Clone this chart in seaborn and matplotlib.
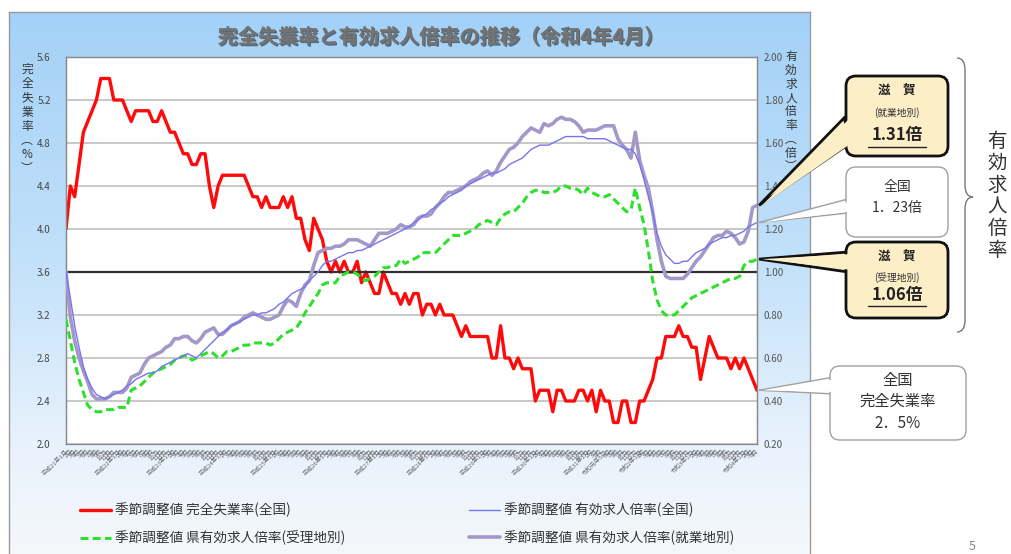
import numpy as np
import pandas as pd
import matplotlib
matplotlib.use("Agg")
import matplotlib.pyplot as plt
import seaborn as sns
from matplotlib.patches import FancyBboxPatch, Polygon, PathPatch
from matplotlib.path import Path
import matplotlib.patheffects as pe

sns.set_style("white")
plt.rcParams['font.family'] = ['Noto Sans CJK JP', 'DejaVu Sans']

W, H = 1011, 554

# ---------------- data (monthly, Jan 2009 - Apr 2022) ----------------
unemployment = [
    4.0, 4.4, 4.3, 4.6, 4.9, 5.0, 5.1, 5.2, 5.4, 5.4, 5.4, 5.2,
    5.2, 5.2, 5.1, 5.0, 5.1, 5.1, 5.1, 5.1, 5.0, 5.0, 5.1, 5.0,
    4.9, 4.9, 4.8, 4.7, 4.7, 4.6, 4.6, 4.7, 4.7, 4.4, 4.2, 4.4,
    4.5, 4.5, 4.5, 4.5, 4.5, 4.5, 4.4, 4.3, 4.3, 4.2, 4.3, 4.2,
    4.2, 4.2, 4.3, 4.2, 4.3, 4.1, 4.1, 3.9, 3.8, 4.1, 4.0, 3.9,
    3.7, 3.6, 3.7, 3.6, 3.7, 3.6, 3.6, 3.7, 3.5, 3.6, 3.5, 3.4,
    3.4, 3.6, 3.5, 3.4, 3.4, 3.3, 3.4, 3.3, 3.4, 3.4, 3.2, 3.3,
    3.3, 3.2, 3.3, 3.2, 3.2, 3.2, 3.1, 3.0, 3.1, 3.0, 3.0, 3.0,
    3.0, 3.0, 2.8, 2.8, 3.1, 2.8, 2.8, 2.7, 2.8, 2.7, 2.7, 2.7,
    2.4, 2.5, 2.5, 2.5, 2.3, 2.5, 2.5, 2.4, 2.4, 2.4, 2.5, 2.5,
    2.4, 2.5, 2.3, 2.5, 2.4, 2.4, 2.2, 2.2, 2.4, 2.4, 2.2, 2.2,
    2.4, 2.4, 2.5, 2.6, 2.8, 2.8, 3.0, 3.0, 3.0, 3.1, 3.0, 3.0,
    2.9, 2.9, 2.6, 2.8, 3.0, 2.9, 2.8, 2.8, 2.8, 2.7, 2.8, 2.7,
    2.8, 2.7, 2.6, 2.5,
]

ratio_national = [
    1.00, 0.88, 0.75, 0.65, 0.56, 0.50, 0.46, 0.43, 0.42, 0.41, 0.42, 0.43,
    0.44, 0.45, 0.47, 0.48, 0.50, 0.51, 0.52, 0.53, 0.53, 0.54, 0.56, 0.57,
    0.58, 0.59, 0.60, 0.61, 0.62, 0.61, 0.60, 0.62, 0.64, 0.66, 0.68, 0.70,
    0.72, 0.73, 0.75, 0.76, 0.77, 0.78, 0.79, 0.80, 0.80, 0.81, 0.81, 0.82,
    0.83, 0.85, 0.86, 0.88, 0.90, 0.91, 0.92, 0.93, 0.96, 0.98, 1.00, 1.03,
    1.05, 1.05, 1.06, 1.07, 1.08, 1.09, 1.09, 1.10, 1.10, 1.11, 1.12, 1.13,
    1.14, 1.15, 1.16, 1.17, 1.18, 1.19, 1.20, 1.21, 1.23, 1.24, 1.26, 1.27,
    1.29, 1.30, 1.32, 1.33, 1.35, 1.36, 1.37, 1.38, 1.40, 1.41, 1.42, 1.43,
    1.44, 1.45, 1.46, 1.46, 1.47, 1.48, 1.50, 1.51, 1.52, 1.53, 1.55, 1.57,
    1.58, 1.59, 1.59, 1.59, 1.60, 1.61, 1.62, 1.63, 1.63, 1.63, 1.63, 1.63,
    1.62, 1.62, 1.62, 1.62, 1.62, 1.61, 1.60, 1.59, 1.58, 1.57, 1.57, 1.55,
    1.50, 1.43, 1.35, 1.28, 1.18, 1.12, 1.08, 1.06, 1.04, 1.04, 1.05, 1.05,
    1.07, 1.09, 1.10, 1.11, 1.13, 1.14, 1.15, 1.16, 1.16, 1.17, 1.17, 1.18,
    1.19, 1.21, 1.22, 1.23,
]

ratio_shiga_work = [
    1.00, 0.79, 0.68, 0.60, 0.54, 0.49, 0.43, 0.41, 0.41, 0.41, 0.42, 0.44,
    0.44, 0.44, 0.46, 0.51, 0.52, 0.53, 0.57, 0.60, 0.61, 0.62, 0.63, 0.65,
    0.66, 0.69, 0.69, 0.70, 0.70, 0.68, 0.67, 0.69, 0.72, 0.73, 0.74, 0.71,
    0.71, 0.73, 0.75, 0.76, 0.77, 0.79, 0.80, 0.81, 0.80, 0.79, 0.78, 0.78,
    0.79, 0.80, 0.84, 0.87, 0.86, 0.84, 0.90, 0.94, 0.96, 1.03, 1.09, 1.10,
    1.11, 1.11, 1.12, 1.12, 1.13, 1.15, 1.15, 1.15, 1.14, 1.13, 1.12, 1.15,
    1.18, 1.18, 1.18, 1.19, 1.20, 1.22, 1.21, 1.21, 1.22, 1.25, 1.26, 1.26,
    1.27, 1.30, 1.32, 1.35, 1.37, 1.37, 1.38, 1.39, 1.40, 1.42, 1.43, 1.44,
    1.46, 1.47, 1.45, 1.47, 1.51, 1.54, 1.57, 1.58, 1.60, 1.63, 1.65, 1.67,
    1.66, 1.65, 1.69, 1.68, 1.69, 1.71, 1.72, 1.71, 1.71, 1.70, 1.68, 1.65,
    1.66, 1.66, 1.66, 1.67, 1.68, 1.68, 1.68, 1.62, 1.59, 1.57, 1.53, 1.65,
    1.52, 1.45, 1.39, 1.28, 1.15, 1.05, 0.98, 0.97, 0.97, 0.97, 0.97, 0.99,
    1.02, 1.05, 1.07, 1.10, 1.13, 1.16, 1.17, 1.17, 1.19, 1.18, 1.16, 1.13,
    1.14, 1.19, 1.30, 1.31,
]

ratio_shiga_recv = [
    0.78, 0.68, 0.58, 0.50, 0.44, 0.38, 0.36, 0.35, 0.35, 0.36, 0.36, 0.36,
    0.37, 0.37, 0.37, 0.45, 0.46, 0.47, 0.49, 0.51, 0.53, 0.54, 0.55, 0.56,
    0.57, 0.59, 0.60, 0.61, 0.61, 0.59, 0.60, 0.61, 0.62, 0.63, 0.62, 0.60,
    0.61, 0.63, 0.63, 0.64, 0.65, 0.66, 0.66, 0.67, 0.67, 0.67, 0.67, 0.66,
    0.67, 0.69, 0.71, 0.72, 0.73, 0.74, 0.77, 0.81, 0.84, 0.87, 0.90, 0.94,
    0.95, 0.95, 0.95, 0.98, 0.99, 1.00, 1.00, 0.99, 0.97, 0.96, 0.97, 0.98,
    1.00, 1.02, 1.02, 1.03, 1.03, 1.06, 1.04, 1.05, 1.06, 1.07, 1.09, 1.09,
    1.09, 1.09, 1.11, 1.13, 1.15, 1.17, 1.17, 1.17, 1.18, 1.19, 1.20, 1.22,
    1.23, 1.24, 1.23, 1.22, 1.25, 1.27, 1.28, 1.28, 1.30, 1.32, 1.35, 1.37,
    1.38, 1.38, 1.37, 1.37, 1.37, 1.38, 1.40, 1.40, 1.39, 1.39, 1.38, 1.36,
    1.39, 1.37, 1.36, 1.35, 1.35, 1.36, 1.34, 1.32, 1.30, 1.28, 1.29, 1.39,
    1.30, 1.22, 1.10, 0.96, 0.87, 0.82, 0.80, 0.80, 0.80, 0.82, 0.84, 0.86,
    0.88, 0.89, 0.90, 0.91, 0.92, 0.93, 0.94, 0.95, 0.96, 0.97, 0.97, 0.98,
    1.03, 1.05, 1.05, 1.06,
]

year_labels = ["平成21年", "平成22年", "平成23年", "平成24年", "平成25年", "平成26年",
               "平成27年", "平成28年", "平成29年", "平成30年", "平成31年",
               "令和2年", "令和3年", "令和4年"]
month_labels = ["1月", "2月", "3月", "4月", "5月", "6月",
                "7月", "8月", "9月", "10月", "11月", "12月"]
left_ticks = [2.0, 2.4, 2.8, 3.2, 3.6, 4.0, 4.4, 4.8, 5.2, 5.6]
right_ticks = [0.2, 0.4, 0.6, 0.8, 1.0, 1.2, 1.4, 1.6, 1.8, 2.0]

legend_labels = ["季節調整値 完全失業率(全国)", "季節調整値 県有効求人倍率(受理地別)",
                 "季節調整値 有効求人倍率(全国)", "季節調整値 県有効求人倍率(就業地別)"]
title = "完全失業率と有効求人倍率の推移（令和4年4月）"

n = len(unemployment)
idx = list(range(n))
xlabels = []
for i in idx:
    y, m = divmod(i, 12)
    if m == 0:
        xlabels.append(year_labels[y] + month_labels[0])
    elif y == 10 and m == 4:
        xlabels.append("令和元年" + month_labels[4])
    else:
        xlabels.append(month_labels[m])

df = pd.DataFrame({"idx": idx, "unemp": unemployment, "nat": ratio_national,
                   "work": ratio_shiga_work, "recv": ratio_shiga_recv})

fig = plt.figure(figsize=(W / 100, H / 100), dpi=100)
fig.patch.set_facecolor('white')

# ---------------- background panel with gradient ----------------
bg = fig.add_axes([9 / W, 0, 801 / W, 542 / H], zorder=-5)
cols = np.array([[0.64, 0.82, 0.97], [0.76, 0.88, 0.98], [0.91, 0.95, 0.99], [0.96, 0.97, 0.98]])
stops = [0, 0.45, 0.8, 1.0]
t = np.linspace(0, 1, 300)
grad = np.stack([np.interp(t, stops, cols[:, k]) for k in range(3)], axis=-1)[:, None, :]
bg.imshow(grad, aspect='auto', extent=[0, 1, 0, 1])
bg.set_xticks([]); bg.set_yticks([])
for s in bg.spines.values():
    s.set_color('#9a9a9a'); s.set_linewidth(1)
bg.spines['bottom'].set_visible(False)

# ---------------- main axes ----------------
ax = fig.add_axes([66 / W, 1 - 444 / H, 691 / W, 387 / H])
ax.set_facecolor('white')
sns.lineplot(data=df, x='idx', y='unemp', ax=ax, color='#ff0a0a', linewidth=2.4, zorder=3)
red_line = ax.lines[-1]
ax.set_ylim(2.0, 5.6)
ax.set_xlim(0, n - 1)
ax.set_yticks(left_ticks)
ax.set_yticklabels([f"{v:.1f}" for v in left_ticks])
ax.grid(axis='y', color='#c4c4c4', linewidth=1.3)
ax.grid(axis='x', visible=False)
ax.set_axisbelow(True)
ax.set_xlabel(""); ax.set_ylabel("")
ax.tick_params(axis='y', length=0, pad=11, labelsize=7, labelcolor='#444')
ax.set_xticks(idx)
ax.set_xticklabels(xlabels, rotation=45, ha='right', rotation_mode='anchor',
                   fontsize=4.3, color='#666')
ax.tick_params(axis='x', length=2, width=0.6, color='#888', pad=1.5)
for s in ax.spines.values():
    s.set_color('#8a8a8a'); s.set_linewidth(0.9)
ax.spines['bottom'].set_linestyle((0, (1, 1)))

ax2 = ax.twinx()
ax2.axhline(1.0, color='#303030', linewidth=1.6, zorder=2)
sns.lineplot(data=df, x='idx', y='recv', ax=ax2, color='#2ee02e', linewidth=2.2, zorder=3)
green_line = ax2.lines[-1]
green_line.set_dashes((2.6, 1.4))
sns.lineplot(data=df, x='idx', y='work', ax=ax2, color='#a497c9', linewidth=2.6, zorder=4)
purple_line = ax2.lines[-1]
sns.lineplot(data=df, x='idx', y='nat', ax=ax2, color='#7575ee', linewidth=1.0, zorder=5)
blue_line = ax2.lines[-1]
ax2.set_ylim(0.2, 2.0)
ax2.set_yticks(right_ticks)
ax2.set_yticklabels([f"{v:.2f}" for v in right_ticks])
ax2.set_ylabel("")
ax2.tick_params(axis='y', length=0, pad=5, labelsize=7, labelcolor='#555')
for s in ax2.spines.values():
    s.set_color('#8a8a8a'); s.set_linewidth(0.9)
ax2.spines['bottom'].set_visible(False)

# axis labels (vertical stacked)
fig.text(27 / W, 1 - 63 / H, "\n".join("完全失業率︵%︶"), ha='center', va='top',
         fontsize=8.5, color='#333', linespacing=1.12)
fig.text(791 / W, 1 - 50 / H, "\n".join("有効求人倍率︵倍︶"), ha='center', va='top',
         fontsize=8.5, color='#333', linespacing=1.08)

# title
fig.text(441 / W, 1 - 37 / H, title, ha='center', va='center', fontsize=14.5,
         fontweight='bold', color='#737373',
         path_effects=[pe.withSimplePatchShadow(offset=(1, -1), shadow_rgbFace='black', alpha=0.5),
                       pe.Normal()])

# legend
fig.legend(handles=[red_line, green_line, blue_line, purple_line], labels=legend_labels,
           ncol=2, loc='upper left', bbox_to_anchor=(80 / W, 1 - 503 / H), frameon=False,
           fontsize=9.8, handlelength=2.3, handletextpad=0.25, columnspacing=9.1,
           labelspacing=0.95, borderpad=0, borderaxespad=0, labelcolor='#333')

# ---------------- callouts overlay ----------------
ov = fig.add_axes([0, 0, 1, 1], zorder=10)
ov.set_xlim(0, W); ov.set_ylim(H, 0); ov.axis('off')


def tip(series):
    d = ax2.transData.transform((n - 1, series[-1]))
    return (d[0] + 2, H - d[1])


def tip_left(series):
    d = ax.transData.transform((n - 1, series[-1]))
    return (d[0] + 2, H - d[1])


def callout(box, tp, base, fc, ec, lw):
    x, y, w, h = box
    ov.add_patch(Polygon([tp, base[0], base[1]], closed=True, fc=fc, ec=ec, lw=lw, zorder=1))
    ov.add_patch(FancyBboxPatch((x, y), w, h, boxstyle='round,pad=0,rounding_size=10',
                                fc=fc, ec=ec, lw=lw, zorder=2))
    b0 = (base[0][0] + 4, base[0][1] + 2)
    b1 = (base[1][0] + 4, base[1][1] - 2)
    ov.add_patch(Polygon([(tp[0] + 3, tp[1]), b0, b1], closed=True, fc=fc, ec='none', zorder=3))


yellow = '#fcefc8'
callout((846, 76, 102, 80), tip(ratio_shiga_work), [(844, 118), (852, 142)], yellow, '#111', 2.0)
callout((846, 167, 102, 70), tip(ratio_national), [(848, 199), (848, 213)], 'white', '#a0a0a0', 1.0)
callout((846, 242, 102, 76), tip(ratio_shiga_recv), [(848, 252), (848, 272)], yellow, '#111', 2.0)
callout((830, 366, 136, 74), tip_left(unemployment), [(834, 377), (834, 394)], 'white', '#a0a0a0', 1.0)

tx = 897
ov.text(tx, 90, "滋　賀", ha='center', va='center', fontsize=9, fontweight='bold', color='#222', zorder=5)
ov.text(tx, 113, "(就業地別)", ha='center', va='center', fontsize=7, color='#333', zorder=5)
ov.text(tx, 135, "1.31倍", ha='center', va='center', fontsize=12, fontweight='bold', color='#222', zorder=5)
ov.plot([868, 926], [147, 147], color='#222', lw=1.0, zorder=5)

ov.text(tx, 187, "全国", ha='center', va='center', fontsize=10, color='#333', zorder=5)
ov.text(tx, 208, "1．23倍", ha='center', va='center', fontsize=10, color='#333', zorder=5)

ov.text(tx, 256, "滋　賀", ha='center', va='center', fontsize=9, fontweight='bold', color='#222', zorder=5)
ov.text(tx, 278, "(受理地別)", ha='center', va='center', fontsize=7, color='#333', zorder=5)
ov.text(tx, 295, "1.06倍", ha='center', va='center', fontsize=12, fontweight='bold', color='#222', zorder=5)
ov.plot([868, 926], [306, 306], color='#222', lw=1.0, zorder=5)

ov.text(898, 380, "全国", ha='center', va='center', fontsize=11, color='#333', zorder=5)
ov.text(898, 401, "完全失業率", ha='center', va='center', fontsize=11, color='#333', zorder=5)
ov.text(898, 423, "2．5%", ha='center', va='center', fontsize=11, color='#333', zorder=5)

# brace
verts = [(957, 58), (965, 58), (965, 70), (965, 185), (965, 197), (973, 197),
         (965, 197), (965, 209), (965, 320), (965, 332), (957, 332)]
codes = [Path.MOVETO, Path.CURVE3, Path.CURVE3, Path.LINETO, Path.CURVE3, Path.CURVE3,
         Path.CURVE3, Path.CURVE3, Path.LINETO, Path.CURVE3, Path.CURVE3]
ov.add_patch(PathPatch(Path(verts, codes), fc='none', ec='#777', lw=1.0, zorder=5))
ov.text(997, 196, "\n".join("有効求人倍率"), ha='center', va='center', fontsize=14,
        color='#333', linespacing=1.05, zorder=5)

ov.text(972, 547, "5", ha='center', va='center', fontsize=9, color='#888', zorder=5)

fig.savefig("out.png", dpi=100)
